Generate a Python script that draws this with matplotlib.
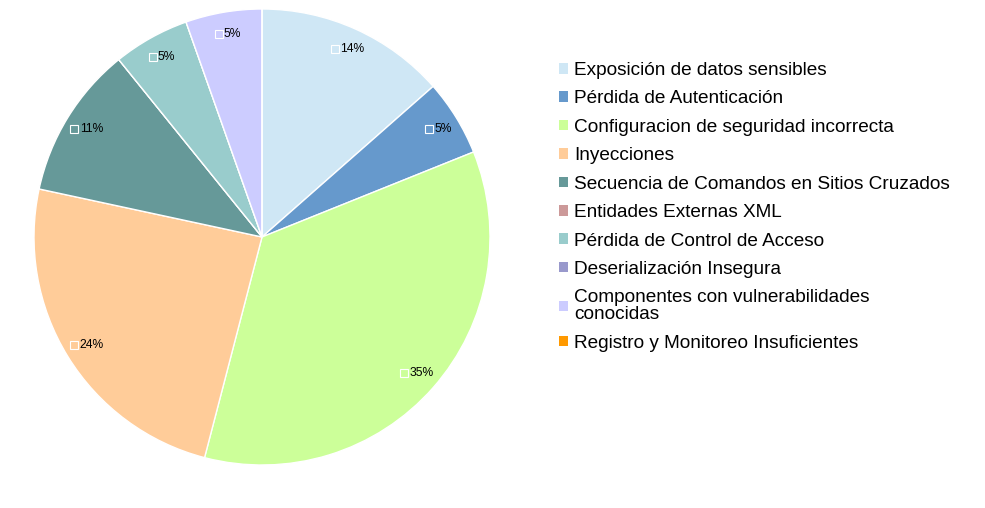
import numpy as np
import matplotlib
matplotlib.use("Agg")
import matplotlib.pyplot as plt

plt.rcParams['font.family'] = ['Liberation Sans', 'DejaVu Sans']

categorias = ["Exposición de datos sensibles", "Pérdida de Autenticación",
              "Configuracion de seguridad incorrecta", "Inyecciones",
              "Secuencia de Comandos en Sitios Cruzados", "Entidades Externas XML",
              "Pérdida de Control de Acceso", "Deserialización Insegura",
              "Componentes con vulnerabilidades\nconocidas",
              "Registro y Monitoreo Insuficientes"]
valores = [5, 2, 13, 9, 4, 0, 2, 0, 2, 0]
colores = ["#cfe7f5", "#6699cc", "#ccff99", "#ffcc99", "#669999",
           "#cc9999", "#99cccc", "#9999cc", "#ccccff", "#ff9900"]

fig = plt.figure(figsize=(9.85, 5.08), dpi=100)
ax = fig.add_axes([0, 0, 1, 1])

# centro y radio en pixeles (eje y hacia arriba)
cx, cy, r = 262, 508 - 237, 228
wedges, _ = ax.pie(valores, colors=colores, startangle=90, counterclock=False,
                   center=(cx, cy), radius=r, frame=True,
                   wedgeprops=dict(edgecolor="white", linewidth=1))

# etiquetas de porcentaje con cuadrito
total = sum(valores)
acum = 0
for v, c in zip(valores, colores):
    if v > 0:
        ang = np.deg2rad((acum + v / 2) / total * 360)
        px = cx + 0.905 * r * np.sin(ang)
        py = cy + 0.905 * r * np.cos(ang)
        txt = f"{round(v / total * 100)}%"
        w = 7.6 * len(txt)
        ax.text(px + 5, py, txt, ha="center", va="center", fontsize=8.7)
        ax.plot(px + 5 - w / 2 - 6, py, marker="s", markersize=5.5,
                markerfacecolor=c, markeredgecolor="white", markeredgewidth=0.8)
    acum += v

ax.set_xlim(0, 985)
ax.set_ylim(0, 508)
ax.axis("off")

leg = ax.legend(wedges, categorias, loc="upper left", bbox_to_anchor=(559 / 985, 1 - 62 / 508),
                frameon=False, fontsize=13.7, handlelength=0.48, handleheight=0.48,
                handletextpad=0.3, labelspacing=0.6, borderpad=0, borderaxespad=0)
for h in leg.legend_handles:
    h.set_edgecolor("none")
for t in leg.get_texts():
    t.set_linespacing(1.0)

fig.savefig("out.png", dpi=100)
